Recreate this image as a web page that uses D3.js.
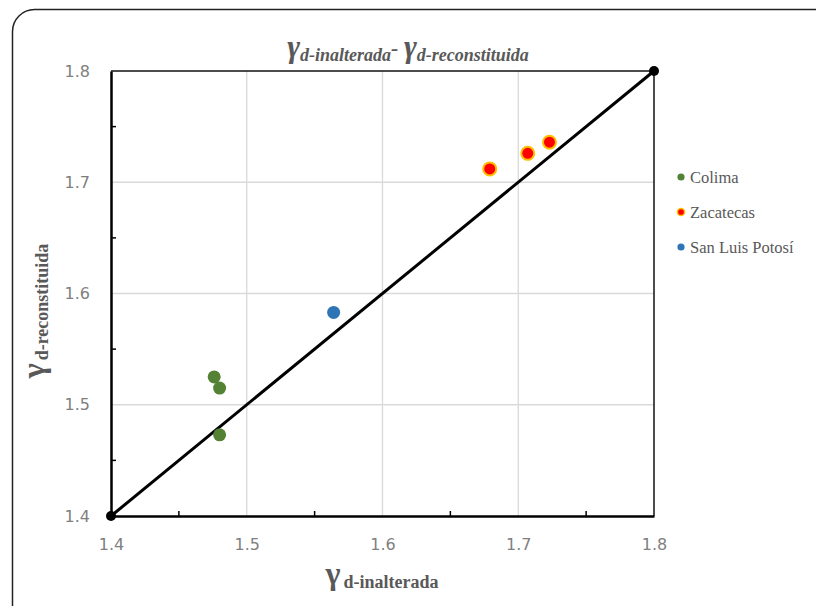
<!DOCTYPE html>
<html><head><meta charset="utf-8">
<script src="https://cdn.jsdelivr.net/npm/d3@7"></script>
<style>body{margin:0;background:#fff}svg{display:block}</style>
</head><body>
<svg id="c" width="816" height="606"></svg>
<script>
const xTicks = [1.4, 1.5, 1.6, 1.7, 1.8];
const yTicks = [1.4, 1.5, 1.6, 1.7, 1.8];
const colimaX = [1.476, 1.480, 1.480];
const colimaY = [1.525, 1.515, 1.473];
const zacX = [1.679, 1.707, 1.723];
const zacY = [1.712, 1.726, 1.736];
const slpX = [1.564];
const slpY = [1.583];
const lineX = [1.4, 1.8];
const lineY = [1.4, 1.8];
const seriesNames = ["Colima", "Zacatecas", "San Luis Potosí"];

const svg = d3.select("#c");
svg.append("rect").attr("x",12.5).attr("y",9.5).attr("width",830).attr("height",640)
  .attr("rx",22).attr("fill","#fff").attr("stroke","#222").attr("stroke-width",1.5);

const x = d3.scaleLinear().domain([1.4,1.8]).range([111,654]);
const y = d3.scaleLinear().domain([1.4,1.8]).range([516,71]);

// gridlines
svg.append("g").selectAll("line").data(xTicks.slice(1,-1)).join("line")
  .attr("x1",d=>x(d)).attr("x2",d=>x(d)).attr("y1",y(1.4)).attr("y2",y(1.8))
  .attr("stroke","#d9d9d9").attr("stroke-width",1.3);
svg.append("g").selectAll("line").data(yTicks.slice(1,-1)).join("line")
  .attr("y1",d=>y(d)).attr("y2",d=>y(d)).attr("x1",x(1.4)).attr("x2",x(1.8))
  .attr("stroke","#d9d9d9").attr("stroke-width",1.3);
// top & right frame
svg.append("line").attr("x1",x(1.4)).attr("x2",x(1.8)).attr("y1",y(1.8)).attr("y2",y(1.8)).attr("stroke","#111").attr("stroke-width",1.5);
svg.append("line").attr("x1",x(1.8)).attr("x2",x(1.8)).attr("y1",y(1.4)).attr("y2",y(1.8)).attr("stroke","#111").attr("stroke-width",1.5);

// axes
const minor = [1.45,1.55,1.65,1.75];
const yAxis = svg.append("g").attr("transform",`translate(${x(1.4)},0)`)
  .call(d3.axisLeft(y).tickValues(yTicks).tickSize(0).tickPadding(21).tickFormat(d3.format(".1f")));
const xAxis = svg.append("g").attr("transform",`translate(0,${y(1.4)})`)
  .call(d3.axisBottom(x).tickValues(xTicks).tickSize(0).tickPadding(23).tickFormat(d3.format(".1f")));
[yAxis,xAxis].forEach(a=>{
  a.select(".domain").attr("stroke","#000").attr("stroke-width",2.5);
  a.selectAll("text").attr("fill","#7f7f7f").style("font-family","'DejaVu Sans', sans-serif").style("font-size","16px");
});
svg.append("g").selectAll("line").data(minor).join("line")
  .attr("x1",x(1.4)).attr("x2",x(1.4)+5).attr("y1",d=>y(d)).attr("y2",d=>y(d)).attr("stroke","#000").attr("stroke-width",1.5);
svg.append("g").selectAll("line").data(minor).join("line")
  .attr("y1",y(1.4)).attr("y2",y(1.4)-5).attr("x1",d=>x(d)).attr("x2",d=>x(d)).attr("stroke","#000").attr("stroke-width",1.5);

// 1:1 line
svg.append("path").datum(lineX.map((v,i)=>[v,lineY[i]]))
  .attr("d",d3.line().x(d=>x(d[0])).y(d=>y(d[1]))).attr("stroke","#000").attr("stroke-width",3).attr("fill","none");
svg.append("g").selectAll("circle").data(lineX.map((v,i)=>[v,lineY[i]])).join("circle")
  .attr("cx",d=>x(d[0])).attr("cy",d=>y(d[1])).attr("r",5).attr("fill","#000");

// points
function pts(xs,ys,fill,stroke,sw){
  svg.append("g").selectAll("circle").data(xs.map((v,i)=>[v,ys[i]])).join("circle")
    .attr("cx",d=>x(d[0])).attr("cy",d=>y(d[1])).attr("r",6.5)
    .attr("fill",fill).attr("stroke",stroke).attr("stroke-width",sw);
}
pts(colimaX,colimaY,"#548235","none",0);
pts(zacX,zacY,"#ff0000","#ffc000",2);
pts(slpX,slpY,"#2e75b6","none",0);

// legend
const lg = [{f:"#548235",s:"none",w:0},{f:"#ff0000",s:"#ffc000",w:1.5},{f:"#2e75b6",s:"none",w:0}];
seriesNames.forEach((n,i)=>{
  const yy = 177 + i*35;
  svg.append("circle").attr("cx",681).attr("cy",yy).attr("r",3.6).attr("fill",lg[i].f).attr("stroke",lg[i].s).attr("stroke-width",lg[i].w);
  svg.append("text").attr("x",690).attr("y",yy+5.5).text(n).attr("fill","#595959")
    .style("font-family","'Liberation Serif', serif").style("font-size","16.5px");
});

// title
const t = svg.append("text").attr("x",408).attr("y",57).attr("text-anchor","middle").attr("fill","#595959")
  .style("font-family","'Liberation Serif', serif").style("font-weight","bold").style("font-style","italic");
t.append("tspan").text("γ").style("font-size","31px");
t.append("tspan").text("d-inalterada").style("font-size","18px").attr("dy",4);
t.append("tspan").text("- ").style("font-size","22px").attr("dy",-6);
t.append("tspan").text("γ").style("font-size","31px").attr("dy",2);
t.append("tspan").text("d-reconstituida").style("font-size","18px").attr("dy",4);

// x label
const xl = svg.append("text").attr("x",382).attr("y",584).attr("text-anchor","middle").attr("fill","#595959")
  .style("font-family","'Liberation Serif', serif").style("font-weight","bold");
xl.append("tspan").text("γ").style("font-size","32px");
xl.append("tspan").text("d-inalterada").style("font-size","18px").attr("dy",4).attr("dx",3);

// y label
const yl = svg.append("text").attr("transform","translate(44,311) rotate(-90)").attr("text-anchor","middle").attr("fill","#595959")
  .style("font-family","'Liberation Serif', serif").style("font-weight","bold");
yl.append("tspan").text("γ").style("font-size","32px");
yl.append("tspan").text("d-reconstituida").style("font-size","18px").attr("dy",4).attr("dx",3);
</script>
</body></html>
